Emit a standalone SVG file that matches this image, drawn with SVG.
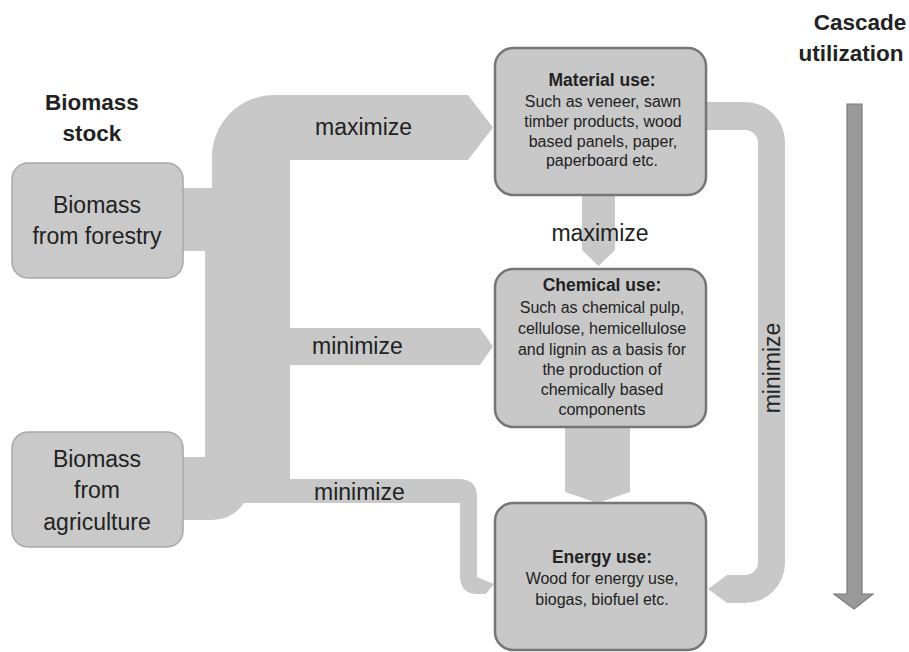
<svg xmlns="http://www.w3.org/2000/svg" width="909" height="652" viewBox="0 0 909 652">
<style>
text{font-family:"Liberation Sans",Arial,sans-serif;fill:#222}
.flow{fill:#c8c8c8;stroke:none}
.src{fill:#c9c9c9;stroke:#a8a8a8;stroke-width:1.5}
.use{fill:#c8c8c8;stroke:#767676;stroke-width:2.5}
.h{font-weight:bold;font-size:22.5px;text-anchor:middle}
.lbl{font-size:23px}
.src-t{font-size:23px;text-anchor:middle}
.t{font-weight:bold;font-size:17.5px;text-anchor:middle}
.b{font-size:16px;text-anchor:middle}
</style>
<rect width="909" height="652" fill="#fff"/>
<g id="connectors">
<rect class="flow" x="180" y="188" width="35" height="63"/>
<path class="flow" d="M212 255 L212 157 A62 62 0 0 1 274 95 L468 95 L493 127.5 L468 160 L290 160 L290 255 Z"/>
<path class="flow" d="M205 251 L290 251 L290 479 L459 479 Q477 479 477 497 L477 577 L494 584 L486 594 L478 594 Q460 594 460 576 L460 503 L244 503 Q232 520 212 520 L180 520 L180 457 L205 457 Z"/>
<path class="flow" d="M289 328 L480 328 L493 346.5 L480 365 L289 365 Z"/>
<path class="flow" d="M582 190 L615 190 L615 250 L598.5 266 L582 250 Z"/>
<path class="flow" d="M565 425 L630 425 L630 492 L597.5 503 L565 492 Z"/>
<path class="flow" d="M700 102 L745 102 A40 40 0 0 1 785 142 L785 563 A40 40 0 0 1 745 603 L727 603 L708 589 L727 575 L745 575 A13 13 0 0 0 758 562 L758 143 A13 13 0 0 0 745 130 L700 130 Z"/>
<text class="lbl" x="315" y="135">maximize</text>
<text class="lbl" x="312" y="354">minimize</text>
<text class="lbl" x="314" y="500">minimize</text>
<text class="lbl" x="600" y="241" text-anchor="middle">maximize</text>
<text class="lbl" transform="translate(780 368) rotate(-90)" text-anchor="middle">minimize</text>
</g>
<g id="biomass-stock-label">
<text class="h" x="92" y="110">Biomass</text>
<text class="h" x="92" y="141">stock</text>
</g>
<g id="forestry">
<rect class="src" x="12" y="163" width="171" height="115" rx="16"/>
<text class="src-t" x="97" y="213">Biomass</text>
<text class="src-t" x="97" y="244">from forestry</text>
</g>
<g id="agriculture">
<rect class="src" x="12" y="432" width="171" height="115" rx="16"/>
<text class="src-t" x="97" y="467">Biomass</text>
<text class="src-t" x="97" y="498">from</text>
<text class="src-t" x="97" y="530">agriculture</text>
</g>
<g id="material">
<rect class="use" x="495" y="48" width="211" height="147" rx="18"/>
<text class="t" x="602" y="86">Material use:</text>
<text class="b" x="603" y="107">Such as veneer, sawn</text>
<text class="b" x="603" y="127">timber products, wood</text>
<text class="b" x="603" y="147">based panels, paper,</text>
<text class="b" x="602" y="166">paperboard etc.</text>
</g>
<g id="chemical">
<rect class="use" x="495" y="269" width="211" height="158" rx="18"/>
<text class="t" x="602" y="291">Chemical use:</text>
<text class="b" x="602" y="313">Such as chemical pulp,</text>
<text class="b" x="602" y="334">cellulose, hemicellulose</text>
<text class="b" x="602" y="355">and lignin as a basis for</text>
<text class="b" x="602" y="375">the production of</text>
<text class="b" x="602" y="395">chemically based</text>
<text class="b" x="602" y="415">components</text>
</g>
<g id="energy">
<rect class="use" x="495" y="503" width="211" height="147" rx="18"/>
<text class="t" x="602" y="563">Energy use:</text>
<text class="b" x="602" y="584">Wood for energy use,</text>
<text class="b" x="602" y="605">biogas, biofuel etc.</text>
</g>
<g id="cascade">
<text class="h" x="860" y="30">Cascade</text>
<text class="h" x="851" y="61">utilization</text>
<path d="M847 104 L862 104 L862 594 L873 594 L854 609 L834 594 L847 594 Z" fill="#9a9a9a" stroke="#7a7a7a" stroke-width="1.2"/>
</g>
</svg>
